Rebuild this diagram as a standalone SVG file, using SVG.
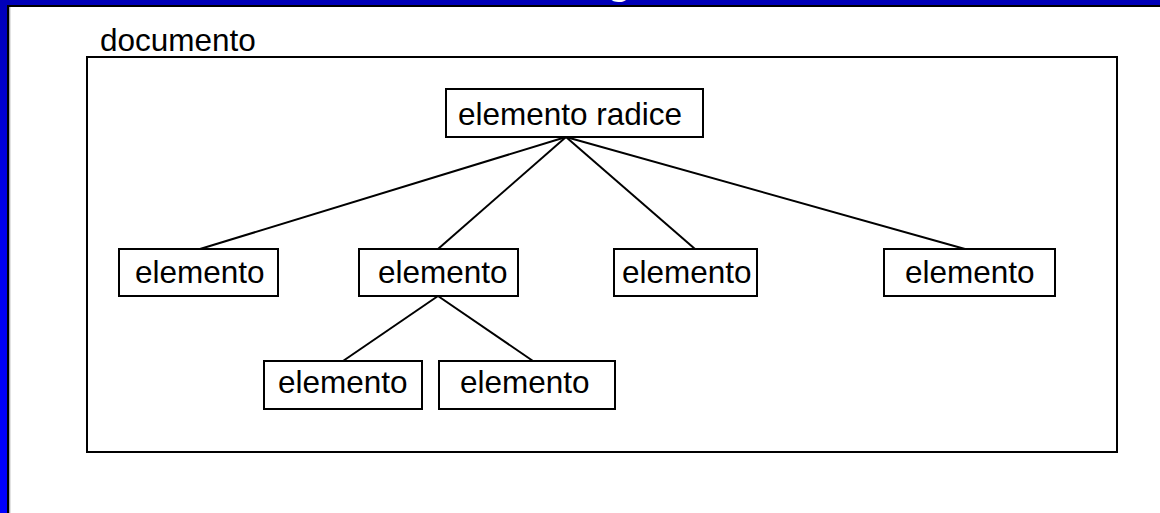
<svg xmlns="http://www.w3.org/2000/svg" width="1160" height="513" viewBox="0 0 1160 513">
  <defs>
    <linearGradient id="frameBlue" x1="0" y1="0" x2="0" y2="1">
      <stop offset="0" stop-color="#0000b8"/>
      <stop offset="0.45" stop-color="#0000ee"/>
      <stop offset="1" stop-color="#0000ff"/>
    </linearGradient>
    <style>
      .box { fill: #ffffff; stroke: #000000; stroke-width: 2; }
      .lbl { font-family: "Liberation Sans", Arial, sans-serif; font-size: 31.5px; fill: #000000; }
      .edge { stroke: #000000; stroke-width: 2; fill: none; }
    </style>
  </defs>

  <!-- slide frame -->
  <rect x="0" y="0" width="1160" height="513" fill="url(#frameBlue)"/>
  <rect x="9" y="7" width="1151" height="506" fill="#ffffff"/>
  <path d="M8 513 V6 H1160" fill="none" stroke="#000000" stroke-width="2"/>
  <line x1="9.75" y1="7" x2="9.75" y2="513" stroke="#8a8a8a" stroke-width="1"/>
  <text x="607" y="-6" font-family="'Liberation Sans', Arial, sans-serif" font-size="40" font-weight="bold" fill="#ffffff">g</text>

  <!-- document container -->
  <g id="documento">
    <text class="lbl" x="100" y="51">documento</text>
    <rect x="87" y="57" width="1030" height="395" fill="none" stroke="#000000" stroke-width="2"/>
  </g>

  <!-- connectors -->
  <g id="connectors">
    <line class="edge" x1="566" y1="137" x2="200" y2="249"/>
    <line class="edge" x1="566" y1="137" x2="438" y2="249"/>
    <line class="edge" x1="566" y1="137" x2="695" y2="249"/>
    <line class="edge" x1="566" y1="137" x2="965" y2="249"/>
    <line class="edge" x1="438" y1="296" x2="343" y2="361"/>
    <line class="edge" x1="438" y1="296" x2="533" y2="361"/>
  </g>

  <!-- nodes -->
  <g id="root">
    <rect class="box" x="446" y="89" width="257" height="48"/>
    <text class="lbl" x="458" y="125">elemento radice</text>
  </g>
  <g id="child1">
    <rect class="box" x="119" y="249" width="159" height="47"/>
    <text class="lbl" x="135" y="283">elemento</text>
  </g>
  <g id="child2">
    <rect class="box" x="359" y="249" width="159" height="47"/>
    <text class="lbl" x="378" y="283">elemento</text>
  </g>
  <g id="child3">
    <rect class="box" x="614" y="249" width="143" height="47"/>
    <text class="lbl" x="622" y="283">elemento</text>
  </g>
  <g id="child4">
    <rect class="box" x="884" y="249" width="171" height="47"/>
    <text class="lbl" x="905" y="283">elemento</text>
  </g>
  <g id="grandchild1">
    <rect class="box" x="264" y="361" width="158" height="48"/>
    <text class="lbl" x="278" y="393">elemento</text>
  </g>
  <g id="grandchild2">
    <rect class="box" x="439" y="361" width="176" height="48"/>
    <text class="lbl" x="460" y="393">elemento</text>
  </g>
</svg>
